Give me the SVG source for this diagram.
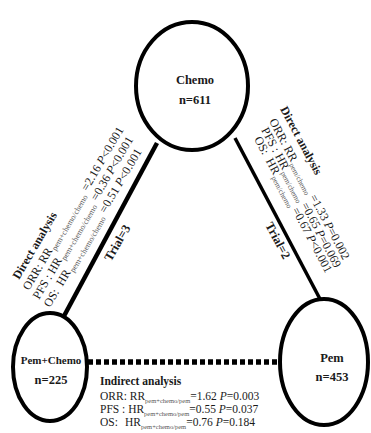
<svg xmlns="http://www.w3.org/2000/svg" width="371" height="433" viewBox="0 0 371 433">
<style>
text{font-family:"Liberation Serif","Times New Roman",serif;fill:#1a1a1a}
.b{font-weight:bold}
.node{fill:#fff;stroke:#000;stroke-width:4}
.lbl{font-weight:bold;text-anchor:middle}
.t{font-size:11.5px}
.r{font-size:12px}
.s{font-size:6.5px;fill:#555}
.s2{font-size:7.5px;fill:#555}
.s3{font-size:8px;fill:#555}
.i{font-style:italic}
</style>
<rect width="371" height="433" fill="#fff"/>
<g id="connectors" stroke="#000" fill="none">
<line x1="157" y1="143" x2="64" y2="316" stroke-width="4.5"/>
<line x1="235" y1="138" x2="320" y2="299" stroke-width="3.5"/>
<line x1="88" y1="362" x2="281" y2="362" stroke-width="5.5" stroke-dasharray="5 3"/>
</g>
<g id="chemo">
<ellipse class="node" cx="192" cy="86" rx="56" ry="64"/>
<text class="lbl" x="195" y="84" font-size="12.5">Chemo</text>
<text class="lbl" x="195" y="104" font-size="12.5">n=611</text>
</g>
<g id="pemchemo">
<ellipse class="node" cx="50" cy="367" rx="37" ry="54"/>
<text class="lbl" x="51" y="364" font-size="11">Pem+Chemo</text>
<text class="lbl" x="51" y="384" font-size="12.5">n=225</text>
</g>
<g id="pem">
<ellipse class="node" cx="324" cy="362" rx="44" ry="63"/>
<text class="lbl" x="332" y="362" font-size="12.5">Pem</text>
<text class="lbl" x="332" y="381" font-size="12.5">n=453</text>
</g>
<g id="left-label">
<text class="b r" transform="translate(19,280) rotate(-59.5)">Direct analysis</text>
<text class="r" transform="translate(29,291) rotate(-59.5)">ORR: RR<tspan class="s3" dx="1" dy="3">pem+chemo/chemo</tspan><tspan dx="4" dy="-3">=2.16 </tspan><tspan class="i">P</tspan>&lt;0.001</text>
<text class="r" transform="translate(39,300) rotate(-59.5)">PFS : HR<tspan class="s3" dx="1" dy="3">pem+chemo/chemo</tspan><tspan dx="4" dy="-3">=0.36 </tspan><tspan class="i">P</tspan>&lt;0.001</text>
<text class="r" transform="translate(50,308) rotate(-59.5)">OS:<tspan dx="6">HR</tspan><tspan class="s3" dx="1" dy="3">pem+chemo/chemo</tspan><tspan dx="4" dy="-3">=0.51 </tspan><tspan class="i">P</tspan>&lt;0.001</text>
<text class="b" font-size="12.5" transform="translate(111,262) rotate(-60)">Trial=3</text>
</g>
<g id="right-label">
<text class="b r" transform="translate(280,109) rotate(62)">Direct analysis</text>
<text class="r" transform="translate(269,121) rotate(62)">ORR: RR<tspan class="s2" dx="1" dy="3">pem/chemo</tspan><tspan dx="3" dy="-3">=1.33 </tspan><tspan class="i">P</tspan>=0.002</text>
<text class="r" transform="translate(261,130) rotate(62)">PFS : HR<tspan class="s2" dx="1" dy="3">pem/chemo</tspan><tspan dx="3" dy="-3">=0.65 </tspan><tspan class="i">P</tspan>=0.069</text>
<text class="r" transform="translate(254,139) rotate(62)">OS:<tspan dx="6">HR</tspan><tspan class="s2" dx="1" dy="3">pem/chemo</tspan><tspan dx="3" dy="-3">=0.67 </tspan><tspan class="i">P</tspan>&lt;0.001</text>
<text class="b" font-size="12.5" transform="translate(265,225) rotate(62)">Trial=2</text>
</g>
<g id="indirect-label">
<text class="b t" x="100" y="385">Indirect analysis</text>
<text class="t" x="100" y="400">ORR: RR<tspan class="s" dy="3">pem+chemo/pem</tspan><tspan dy="-3">=1.62 </tspan><tspan class="i">P</tspan>=0.003</text>
<text class="t" x="100" y="413">PFS : HR<tspan class="s" dy="3">pem+chemo/pem</tspan><tspan dy="-3">=0.55 </tspan><tspan class="i">P</tspan>=0.037</text>
<text class="t" x="100" y="426">OS:<tspan x="125">HR</tspan><tspan class="s" dy="3">pem+chemo/pem</tspan><tspan dy="-3">=0.76 </tspan><tspan class="i">P</tspan>=0.184</text>
</g>
</svg>
